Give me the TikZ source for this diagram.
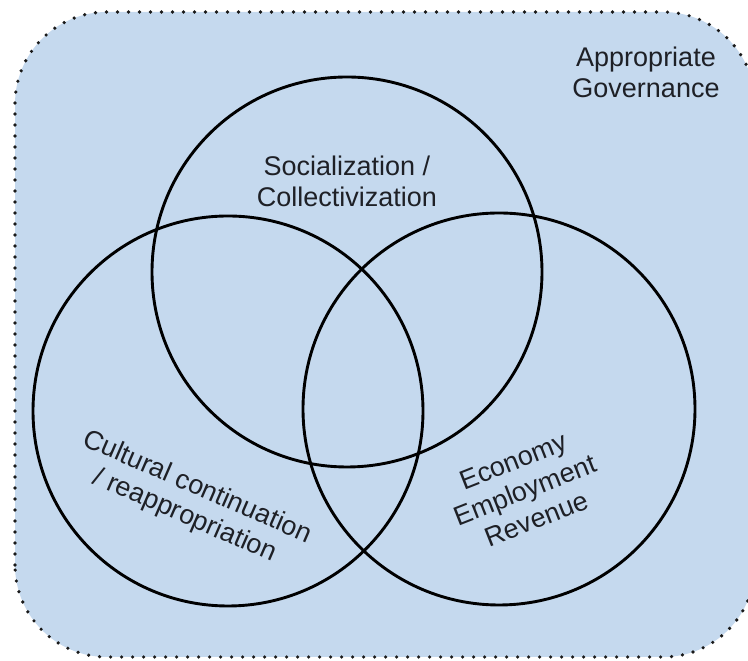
\documentclass[tikz,border=0pt]{standalone}
\usepackage{fontspec}
\setmainfont{Liberation Sans}
\definecolor{govfill}{RGB}{197,217,238}
\definecolor{inktext}{RGB}{30,32,38}
\begin{document}
\begin{tikzpicture}[x=1pt,y=1pt,
  setcircle/.style={draw=black,line width=2.9pt},
  label/.style={text=inktext,align=center,inner sep=0pt,
    font=\fontsize{27}{31}\selectfont}]
\useasboundingbox (0,0) rectangle (748,661);
% governance frame
\draw[fill=govfill,draw=black!90,line width=3.6pt,line cap=round,
  dash pattern=on 0pt off 11pt,rounded corners=92pt]
  (15,4) rectangle (755,649);
% the three sets
\node[setcircle,circle,minimum size=390pt,inner sep=0pt] (soc) at (347,389) {};
\node[setcircle,circle,minimum size=390pt,inner sep=0pt] (cul) at (228,250) {};
\node[setcircle,circle,minimum size=392pt,inner sep=0pt] (eco) at (499,252) {};
% labels
\node[label] (gov) at (646,589) {Appropriate\\Governance};
\node[label] (soct) at (347,480) {Socialization /\\Collectivization};
\node[label,rotate=-23.5] (cult) at (191,159) {Cultural continuation\\/ reappropriation};
\node[label,rotate=21.5] (ecot) at (525,171) {Economy\\Employment\\Revenue};
\end{tikzpicture}
\end{document}
